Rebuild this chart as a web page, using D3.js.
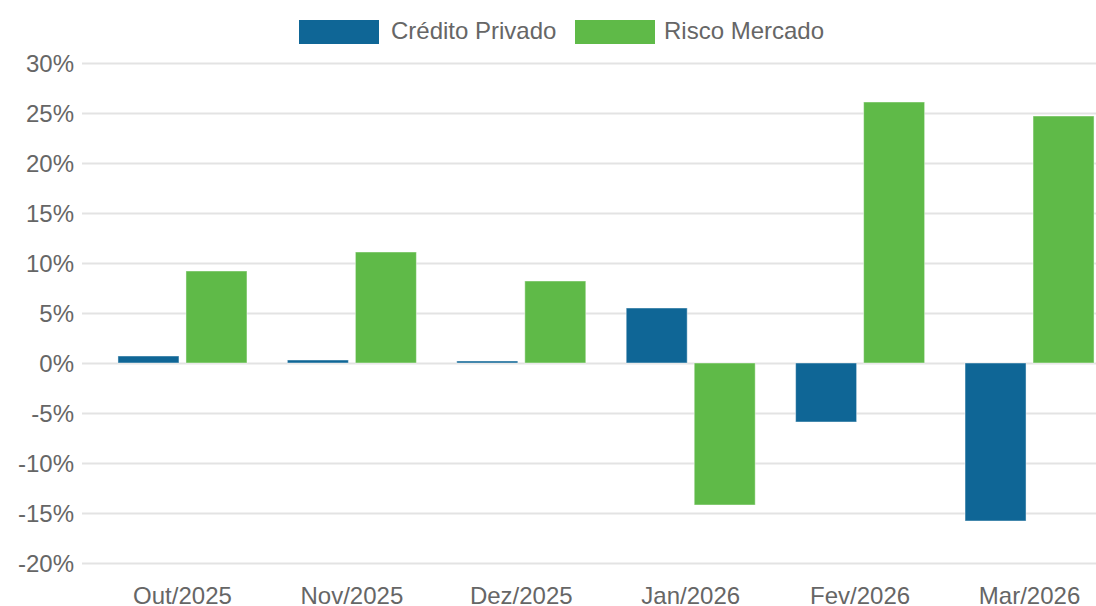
<!DOCTYPE html>
<html>
<head>
<meta charset="utf-8">
<script src="https://cdn.jsdelivr.net/npm/d3@7"></script>
<style>
  html, body { margin: 0; padding: 0; background: #fff; }
  svg { display: block; font-family: "Liberation Sans", Arial, sans-serif; }
</style>
</head>
<body>
<div id="chart"></div>
<script>
// Dados
const categorias = ["Out/2025", "Nov/2025", "Dez/2025", "Jan/2026", "Fev/2026", "Mar/2026"];
const series = ["Crédito Privado", "Risco Mercado"];
const creditoPrivado = [0.7, 0.3, 0.2, 5.5, -5.9, -15.8];
const riscoMercado = [9.2, 11.1, 8.2, -14.2, 26.1, 24.7];
const yTicks = [-20, -15, -10, -5, 0, 5, 10, 15, 20, 25, 30];
const cores = ["#0f6696", "#5fba48"];

const width = 1096, height = 606;

const svg = d3.select("#chart")
    .append("svg")
    .attr("width", width)
    .attr("height", height);

// Escalas
const y = d3.scaleLinear()
    .domain([-20, 30])
    .range([563, 63]);

const x0 = d3.scaleBand()
    .domain(categorias)
    .range([97.8, 1114.2])
    .paddingInner(0.2385)
    .paddingOuter(0.119);

const x1 = d3.scaleBand()
    .domain(series)
    .range([0, x0.bandwidth()])
    .paddingInner(0.103)
    .paddingOuter(0);

const color = d3.scaleOrdinal().domain(series).range(cores);

// Grade e eixo Y
const yAxis = svg.append("g")
    .attr("transform", "translate(82,0)")
    .call(d3.axisLeft(y).tickValues(yTicks).tickFormat(d => d + "%").tickSize(-(width - 82)).tickPadding(8));

yAxis.select(".domain").remove();
yAxis.selectAll(".tick line")
    .attr("stroke", "#e3e3e3")
    .attr("stroke-width", 2);
yAxis.selectAll(".tick text")
    .attr("fill", "#666")
    .style("font-size", "24px")
    .attr("dy", "0.35em");

// Barras
const dados = categorias.map((c, i) => ({
    cat: c,
    valores: [
        { serie: series[0], v: creditoPrivado[i] },
        { serie: series[1], v: riscoMercado[i] }
    ]
}));

const grupos = svg.append("g")
    .selectAll("g")
    .data(dados)
    .enter()
    .append("g")
    .attr("transform", d => `translate(${x0(d.cat)},0)`);

grupos.selectAll("rect")
    .data(d => d.valores)
    .enter()
    .append("rect")
    .attr("x", d => x1(d.serie))
    .attr("y", d => y(Math.max(0, d.v)))
    .attr("width", x1.bandwidth())
    .attr("height", d => Math.abs(y(d.v) - y(0)))
    .attr("fill", d => color(d.serie))
    .attr("stroke", "rgba(255,255,255,0.45)")
    .attr("stroke-width", 1);

// Eixo X (rótulos)
const xAxis = svg.append("g")
    .attr("transform", "translate(0,563)")
    .call(d3.axisBottom(x0).tickSize(0).tickPadding(24));
xAxis.select(".domain").remove();
xAxis.selectAll(".tick text")
    .attr("fill", "#666")
    .style("font-size", "24px")
    .attr("dy", "0.71em");

// Legenda
const legenda = [
    { serie: series[0], x: 299, tx: 391 },
    { serie: series[1], x: 575, tx: 664 }
];
const leg = svg.append("g");
legenda.forEach(l => {
    leg.append("rect")
        .attr("x", l.x)
        .attr("y", 20)
        .attr("width", 80)
        .attr("height", 24)
        .attr("fill", color(l.serie));
    leg.append("text")
        .attr("x", l.tx)
        .attr("y", 31)
        .attr("dy", "0.35em")
        .attr("fill", "#666")
        .style("font-size", "24px")
        .text(l.serie);
});
</script>
</body>
</html>
